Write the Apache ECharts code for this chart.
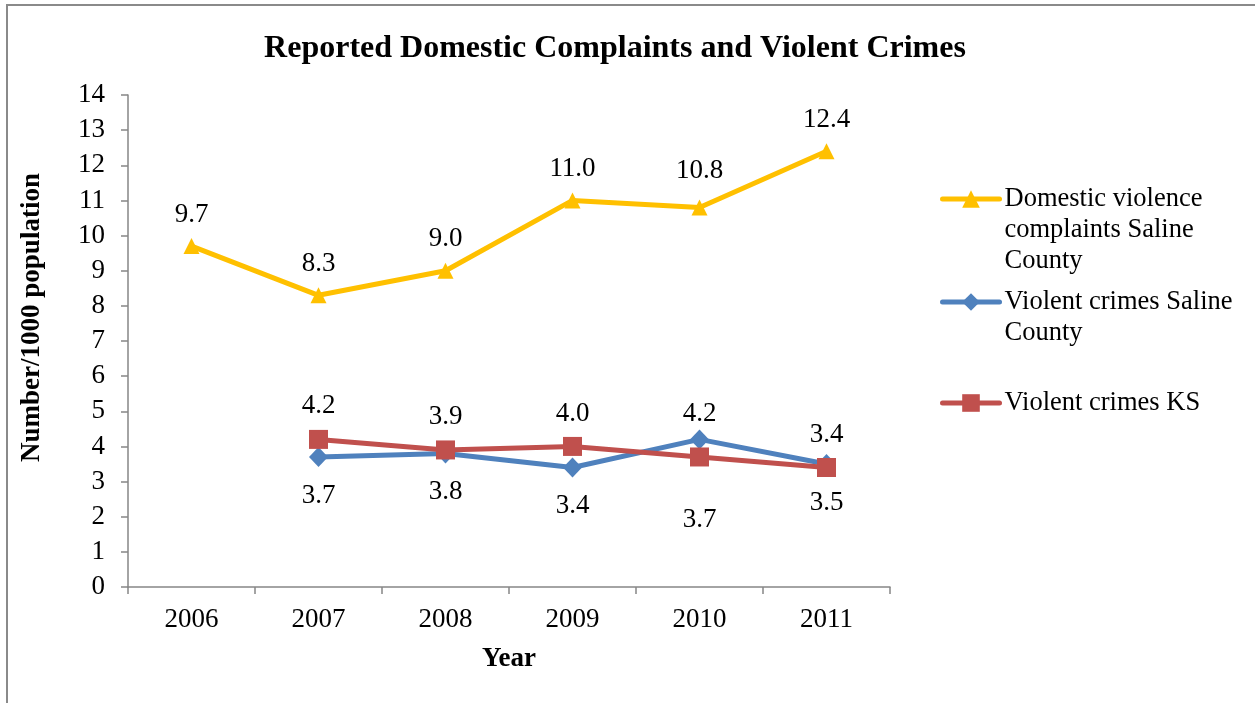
<!DOCTYPE html>
<html>
<head>
<meta charset="utf-8">
<script src="https://cdn.jsdelivr.net/npm/echarts@6/dist/echarts.min.js"></script>
<style>
  html, body { margin: 0; padding: 0; background: #fff; }
  #chart { width: 1255px; height: 703px; }
</style>
</head>
<body>
<div id="chart"></div>
<script>
// Rates per 1000 population, 2006-2011
const years = ['2006', '2007', '2008', '2009', '2010', '2011'];
const domesticSaline = [9.7, 8.3, 9.0, 11.0, 10.8, 12.4];
const violentSaline = [null, 3.7, 3.8, 3.4, 4.2, 3.5];
const violentKS = [null, 4.2, 3.9, 4.0, 3.7, 3.4];
const seriesNames = [
  'Domestic violence\ncomplaints Saline\nCounty',
  'Violent crimes Saline\nCounty',
  'Violent crimes KS'
];

const FONT = "'Liberation Serif', 'Times New Roman', serif";
const YELLOW = '#FFC000', BLUE = '#4F81BD', RED = '#C0504D';

const chart = echarts.init(document.getElementById('chart'), null, { renderer: 'canvas' });

const labelBase = {
  show: true,
  fontFamily: FONT,
  fontSize: 27,
  color: '#000',
  formatter: p => p.value == null ? '' : Number(p.value).toFixed(1)
};

// Per-point label overrides (2010: Saline label above, KS label below)
function withLabels(values, overrides) {
  return values.map((v, i) => {
    if (v == null) return null;
    const item = { value: v };
    if (overrides[i]) item.label = overrides[i];
    return item;
  });
}

// One legend block per series; leading blank lines keep the marker level with the first text line
function legendBox(name, top) {
  const extra = name.split('\n').length - 1;
  return {
    orient: 'vertical',
    left: 940,
    top: top,
    padding: 0,
    itemWidth: 57,
    itemHeight: 22,
    itemGap: 0,
    selectedMode: false,
    data: [name],
    lineStyle: { width: 5, cap: 'round' },
    formatter: n => '\n'.repeat(extra) + n,
    textStyle: {
      fontFamily: FONT,
      fontSize: 26.5,
      color: '#000',
      lineHeight: 31
    }
  };
}

chart.setOption({
  animation: false,
  backgroundColor: '#fff',
  title: {
    text: 'Reported Domestic Complaints and Violent Crimes',
    left: 610,
    textAlign: 'center',
    top: 28,
    textStyle: { fontFamily: FONT, fontSize: 32, fontWeight: 'bold', color: '#000' }
  },
  graphic: [{
    type: 'rect',
    shape: { x: 7, y: 5, width: 1260, height: 720 },
    style: { fill: 'none', stroke: '#8a8a8a', lineWidth: 2 },
    silent: true
  }],
  legend: [
    legendBox(seriesNames[0], 121.5),
    legendBox(seriesNames[1], 255.5),
    legendBox(seriesNames[2], 387.5)
  ],
  grid: { left: 128, right: 365, top: 95, bottom: 116 },
  xAxis: {
    type: 'category',
    data: years,
    boundaryGap: true,
    name: 'Year',
    nameLocation: 'middle',
    nameGap: 59,
    nameTextStyle: { fontFamily: FONT, fontSize: 27, fontWeight: 'bold', color: '#000' },
    axisLine: { lineStyle: { color: '#868686', width: 1.5 } },
    axisTick: { show: true, length: 7, alignWithLabel: false, lineStyle: { color: '#868686', width: 1.5 } },
    axisLabel: { fontFamily: FONT, fontSize: 27, color: '#000', margin: 19 },
    splitLine: { show: false }
  },
  yAxis: {
    type: 'value',
    min: 0,
    max: 14,
    interval: 1,
    name: 'Number/1000 population',
    nameLocation: 'middle',
    nameGap: 82,
    nameRotate: 90,
    nameTextStyle: { fontFamily: FONT, fontSize: 27, fontWeight: 'bold', color: '#000', padding: [0, 0, 0, 47] },
    axisLine: { show: true, lineStyle: { color: '#868686', width: 1.5 } },
    axisTick: { show: true, length: 7, lineStyle: { color: '#868686', width: 1.5 } },
    axisLabel: { fontFamily: FONT, fontSize: 27, color: '#000', margin: 23 },
    splitLine: { show: false }
  },
  series: [
    {
      name: seriesNames[0],
      type: 'line',
      data: withLabels(domesticSaline, { 4: { position: 'top', distance: 15 } }),
      color: YELLOW,
      lineStyle: { width: 5, color: YELLOW },
      symbol: 'triangle',
      symbolSize: 16,
      itemStyle: { color: YELLOW },
      label: Object.assign({}, labelBase, { position: 'top', distance: 10 })
    },
    {
      name: seriesNames[1],
      type: 'line',
      data: withLabels(violentSaline, { 4: { position: 'top', distance: 2 } }),
      color: BLUE,
      lineStyle: { width: 5, color: BLUE },
      symbol: 'diamond',
      symbolSize: [19, 20],
      itemStyle: { color: BLUE },
      label: Object.assign({}, labelBase, { position: 'bottom', distance: 15 })
    },
    {
      name: seriesNames[2],
      type: 'line',
      data: withLabels(violentKS, { 4: { position: 'bottom', distance: 40 } }),
      color: RED,
      lineStyle: { width: 5, color: RED },
      symbol: 'rect',
      symbolSize: 19,
      itemStyle: { color: RED },
      label: Object.assign({}, labelBase, { position: 'top', distance: 10 })
    }
  ]
});
</script>
</body>
</html>
